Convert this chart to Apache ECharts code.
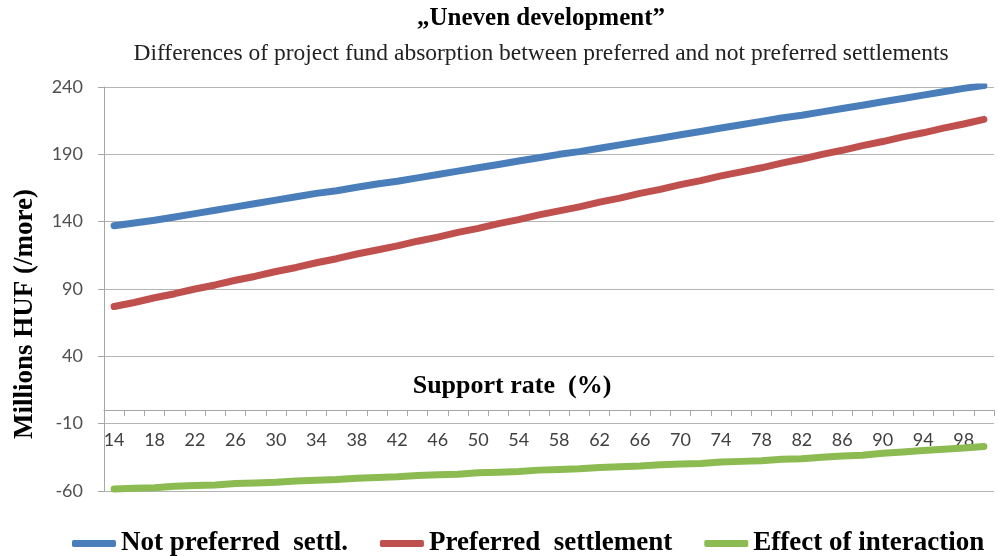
<!DOCTYPE html>
<html>
<head>
<meta charset="utf-8">
<script src="https://cdn.jsdelivr.net/npm/echarts@6/dist/echarts.min.js"></script>
<style>
html,body{margin:0;padding:0;background:#fff;}
#chart{width:998px;height:556px;}
</style>
</head>
<body>
<div id="chart"></div>
<script>
var categories = ['14','16','18','20','22','24','26','28','30','32','34','36','38','40','42','44','46','48','50','52','54','56','58','60','62','64','66','68','70','72','74','76','78','80','82','84','86','88','90','92','94','96','98','100'];
var notPreferred = [137,139,141,143.5,146,148.5,151,153.5,156,158.5,161,163,165.5,168,170,172.5,175,177.5,180,182.5,185,187.5,190,192,194.5,197,199.5,202,204.5,207,209.5,212,214.5,217,219,221.5,224,226.5,229,231.5,234,236.5,239,241];
var preferred = [77,80,83.5,86.5,90,93,96.5,99.5,103,106,109.5,112.5,116,119,122,125.5,128.5,132,135,138.5,141.5,145,148,151,154.5,157.5,161,164,167.5,170.5,174,177,180,183.5,186.5,190,193,196.5,199.5,203,206,209.5,212.5,216];
var interaction = [-58.5,-58,-57.5,-56.5,-56,-55.5,-54.5,-54,-53.5,-52.5,-52,-51.5,-50.5,-50,-49.5,-48.5,-48,-47.5,-46.5,-46,-45.5,-44.5,-44,-43.5,-42.5,-42,-41.5,-40.5,-40,-39.5,-38.5,-38,-37.5,-36.5,-36,-35,-34,-33.5,-32,-31,-30,-29,-28,-27];
var yTicks = {min: -60, max: 240, interval: 50};

var serif = '"Liberation Serif", "DejaVu Serif", serif';
var chart = echarts.init(document.getElementById('chart'));
chart.setOption({
  animation: false,
  backgroundColor: '#ffffff',
  title: [{
    text: '\u201EUneven development\u201D',
    left: 536, top: 1, textAlign: 'center',
    textStyle: {fontFamily: serif, fontWeight: 'bold', fontSize: 25, color: '#000'}
  }, {
    text: 'Differences of project fund absorption between preferred and not preferred settlements',
    left: 536, top: 37, textAlign: 'center',
    textStyle: {fontFamily: serif, fontWeight: 'normal', fontSize: 23.5, color: '#222'}
  }],
  legend: {
    bottom: -1, left: 72, right: 0, padding: 0,
    itemWidth: 44, itemHeight: 7, itemGap: 32,
    icon: 'roundRect',
    textStyle: {fontFamily: serif, fontWeight: 'bold', fontSize: 27, color: '#000'},
    data: ['Not preferred  settl.', 'Preferred  settlement', 'Effect of interaction']
  },
  grid: {left: 104, right: 4, top: 87, bottom: 65, containLabel: false},
  xAxis: {
    type: 'category',
    data: categories,
    boundaryGap: true,
    offset: -81,
    name: 'Support rate  (%)',
    nameLocation: 'middle',
    nameGap: -37,
    nameTextStyle: {fontFamily: serif, fontWeight: 'bold', fontSize: 26, color: '#000', padding: [0, 74, 0, 0]},
    axisLine: {onZero: false, lineStyle: {color: '#a6a6a6', width: 1}},
    axisTick: {show: true, interval: 0, length: 6, inside: false, lineStyle: {color: '#a6a6a6'}},
    axisLabel: {interval: 1, margin: 21, fontFamily: 'Lato, "Open Sans", sans-serif', fontSize: 18, color: '#404040'},
    splitLine: {show: false}
  },
  yAxis: {
    type: 'value',
    min: yTicks.min, max: yTicks.max, interval: yTicks.interval,
    name: 'Millions HUF (/more)',
    nameLocation: 'middle',
    nameGap: 65,
    nameRotate: 90,
    nameTextStyle: {fontFamily: serif, fontWeight: 'bold', fontSize: 27, color: '#000', padding: [0, 50, 0, 0]},
    axisLine: {show: true, lineStyle: {color: '#a6a6a6', width: 1}},
    axisTick: {show: true, length: 6, lineStyle: {color: '#a6a6a6'}},
    axisLabel: {margin: 21, fontFamily: 'Lato, "Open Sans", sans-serif', fontSize: 18, color: '#505050'},
    splitLine: {show: true, lineStyle: {color: '#b4b4b4', width: 1}}
  },
  series: [{
    name: 'Not preferred  settl.', type: 'line', data: notPreferred,
    symbol: 'none', color: '#4a7ebb',
    lineStyle: {width: 7, cap: 'round', join: 'round', color: '#4a7ebb'}
  }, {
    name: 'Preferred  settlement', type: 'line', data: preferred,
    symbol: 'none', color: '#c0504d',
    lineStyle: {width: 7, cap: 'round', join: 'round', color: '#c0504d'}
  }, {
    name: 'Effect of interaction', type: 'line', data: interaction,
    symbol: 'none', color: '#8cbb52',
    lineStyle: {width: 7, cap: 'round', join: 'round', color: '#8cbb52'}
  }]
});
</script>
</body>
</html>
